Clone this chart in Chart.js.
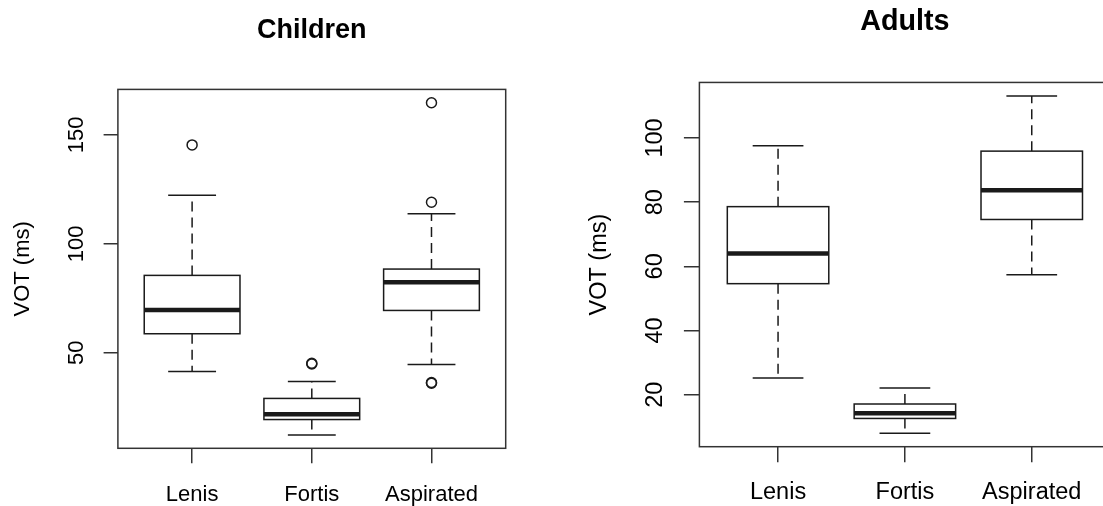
<!DOCTYPE html>
<html lang="en">
<head>
    <meta charset="UTF-8">
    <title>VOT by stop type</title>
    <script src="https://cdn.jsdelivr.net/npm/chart.js"></script>
    <style>
        body { margin: 0; background: #fff; overflow: hidden; }
        .panels { position: relative; width: 1103px; height: 506px; overflow: hidden; }
        .panels canvas { position: absolute; top: 0; }
        #children-chart { left: 0; }
        #adults-chart { left: 551px; }
    </style>
</head>
<body>
    <div class="panels">
        <canvas id="children-chart" width="551" height="506"></canvas>
        <canvas id="adults-chart" width="560" height="506"></canvas>
    </div>
    <script>
        const categories = ['Lenis', 'Fortis', 'Aspirated'];

        // Children: five-number summaries per stop type
        const childLow = [41.4, 12.2, 44.6];
        const childQ1 = [58.7, 19.3, 69.4];
        const childMedian = [69.6, 21.7, 82.4];
        const childQ3 = [85.5, 29.0, 88.4];
        const childHigh = [122.3, 36.8, 113.8];
        const childOutliers = [[145.4], [44.8, 45.1], [164.8, 119.1, 36.0, 36.3]];
        const childTicks = [50, 100, 150];

        // Adults
        const adultLow = [25.2, 8.0, 57.4];
        const adultQ1 = [54.6, 12.6, 74.6];
        const adultMedian = [64.0, 14.2, 83.7];
        const adultQ3 = [78.6, 17.1, 95.9];
        const adultHigh = [97.6, 22.1, 113.1];
        const adultOutliers = [[], [], []];
        const adultTicks = [20, 40, 60, 80, 100];

        const INK = '#1a1a1a';
        const FONT = "'Liberation Sans', Arial, Helvetica, sans-serif";

        // R-style range: data extent plus 4% on each side
        function paddedRange(low, high, outliers) {
            const all = low.concat(high, outliers.flat());
            const lo = Math.min(...all), hi = Math.max(...all);
            const pad = (hi - lo) * 0.04;
            return [lo - pad, hi + pad];
        }

        function boxPlugin(s) {
            return {
                id: 'boxes',
                beforeDatasetsDraw(chart) {
                    const { ctx, scales: { x, y } } = chart;
                    ctx.save();
                    ctx.strokeStyle = INK;
                    s.median.forEach((m, i) => {
                        const cx = x.getPixelForValue(i + 1);
                        const half = x.getPixelForValue(i + 1.4) - cx;
                        const cap = half / 2;
                        const yLow = y.getPixelForValue(s.low[i]);
                        const yQ1 = y.getPixelForValue(s.q1[i]);
                        const yMed = y.getPixelForValue(m);
                        const yQ3 = y.getPixelForValue(s.q3[i]);
                        const yHigh = y.getPixelForValue(s.high[i]);

                        // dashed whiskers
                        ctx.lineWidth = 1.5;
                        ctx.setLineDash([10, 6]);
                        ctx.beginPath();
                        ctx.moveTo(cx, yQ3); ctx.lineTo(cx, yHigh);
                        ctx.moveTo(cx, yQ1); ctx.lineTo(cx, yLow);
                        ctx.stroke();
                        ctx.setLineDash([]);

                        // staples
                        ctx.beginPath();
                        ctx.moveTo(cx - cap, yHigh); ctx.lineTo(cx + cap, yHigh);
                        ctx.moveTo(cx - cap, yLow); ctx.lineTo(cx + cap, yLow);
                        ctx.stroke();

                        // box
                        ctx.fillStyle = '#fff';
                        ctx.fillRect(cx - half, yQ3, half * 2, yQ1 - yQ3);
                        ctx.strokeRect(cx - half, yQ3, half * 2, yQ1 - yQ3);

                        // median
                        ctx.lineWidth = 4.5;
                        ctx.beginPath();
                        ctx.moveTo(cx - half, yMed); ctx.lineTo(cx + half, yMed);
                        ctx.stroke();
                    });
                    ctx.restore();
                },
                afterDatasetsDraw(chart) {
                    const { ctx, chartArea: a } = chart;
                    ctx.save();
                    ctx.strokeStyle = '#333';
                    ctx.lineWidth = 1.5;
                    ctx.strokeRect(a.left, a.top, a.right - a.left, a.bottom - a.top);
                    ctx.restore();
                }
            };
        }

        function makePanel(id, p) {
            const [yMin, yMax] = paddedRange(p.low, p.high, p.outliers);
            const points = [];
            p.outliers.forEach((list, i) => list.forEach(v => points.push({ x: i + 1, y: v })));

            return new Chart(document.getElementById(id), {
                type: 'scatter',
                data: {
                    datasets: [{
                        data: points,
                        pointStyle: 'circle',
                        pointRadius: 5,
                        pointBorderWidth: 1.5,
                        pointBorderColor: INK,
                        pointBackgroundColor: 'rgba(0,0,0,0)'
                    }]
                },
                options: {
                    responsive: false,
                    animation: false,
                    layout: { padding: p.padding },
                    plugins: {
                        legend: { display: false },
                        tooltip: { enabled: false },
                        title: {
                            display: true,
                            text: p.title,
                            fullSize: false,
                            color: '#000',
                            font: { family: FONT, size: p.titleSize, weight: 'bold' },
                            padding: p.titlePad
                        }
                    },
                    scales: {
                        x: {
                            type: 'linear',
                            min: 0.5 - 0.12,
                            max: categories.length + 0.5 + 0.12,
                            afterBuildTicks: s => { s.ticks = categories.map((c, i) => ({ value: i + 1 })); },
                            afterFit: s => { s.height = p.xHeight; },
                            ticks: {
                                color: '#000',
                                font: { family: FONT, size: p.fontSize },
                                padding: p.xTickPad,
                                maxRotation: 0,
                                callback: v => categories[v - 1]
                            },
                            grid: { drawOnChartArea: false, color: '#333', lineWidth: 1.5, tickLength: p.xTickLen },
                            border: { display: false }
                        },
                        y: {
                            min: yMin,
                            max: yMax,
                            afterBuildTicks: s => { s.ticks = p.ticks.map(v => ({ value: v })); },
                            afterFit: s => { s.width = p.yWidth; },
                            ticks: {
                                color: '#000',
                                font: { family: FONT, size: p.fontSize },
                                padding: p.yTickPad,
                                minRotation: 90,
                                maxRotation: 90,
                                crossAlign: 'center'
                            },
                            grid: { drawOnChartArea: false, color: '#333', lineWidth: 1.5, tickLength: p.yTickLen },
                            border: { display: false },
                            title: {
                                display: true,
                                text: 'VOT (ms)',
                                color: '#000',
                                font: { family: FONT, size: p.fontSize },
                                padding: { top: p.yTitlePad, bottom: 0 }
                            }
                        }
                    }
                },
                plugins: [boxPlugin(p)]
            });
        }

        makePanel('children-chart', {
            title: 'Children',
            low: childLow, q1: childQ1, median: childMedian, q3: childQ3, high: childHigh,
            outliers: childOutliers, ticks: childTicks,
            titleSize: 27, fontSize: 22,
            titlePad: { top: 14, bottom: 43 },
            padding: { left: 0, right: 45.3, top: 0, bottom: 0 },
            yWidth: 117.9, xHeight: 57.7,
            yTickLen: 14.3, xTickLen: 15,
            yTickPad: 8.4, xTickPad: 18.5, yTitlePad: 10
        });

        makePanel('adults-chart', {
            title: 'Adults',
            low: adultLow, q1: adultQ1, median: adultMedian, q3: adultQ3, high: adultHigh,
            outliers: adultOutliers, ticks: adultTicks,
            titleSize: 28.7, fontSize: 23.5,
            titlePad: { top: 5, bottom: 43 },
            padding: { left: 0, right: 0.6, top: 0, bottom: 0 },
            yWidth: 148.4, xHeight: 59.3,
            yTickLen: 15.5, xTickLen: 15.5,
            yTickPad: 9.1, xTickPad: 16, yTitlePad: 34
        });
    </script>
</body>
</html>
